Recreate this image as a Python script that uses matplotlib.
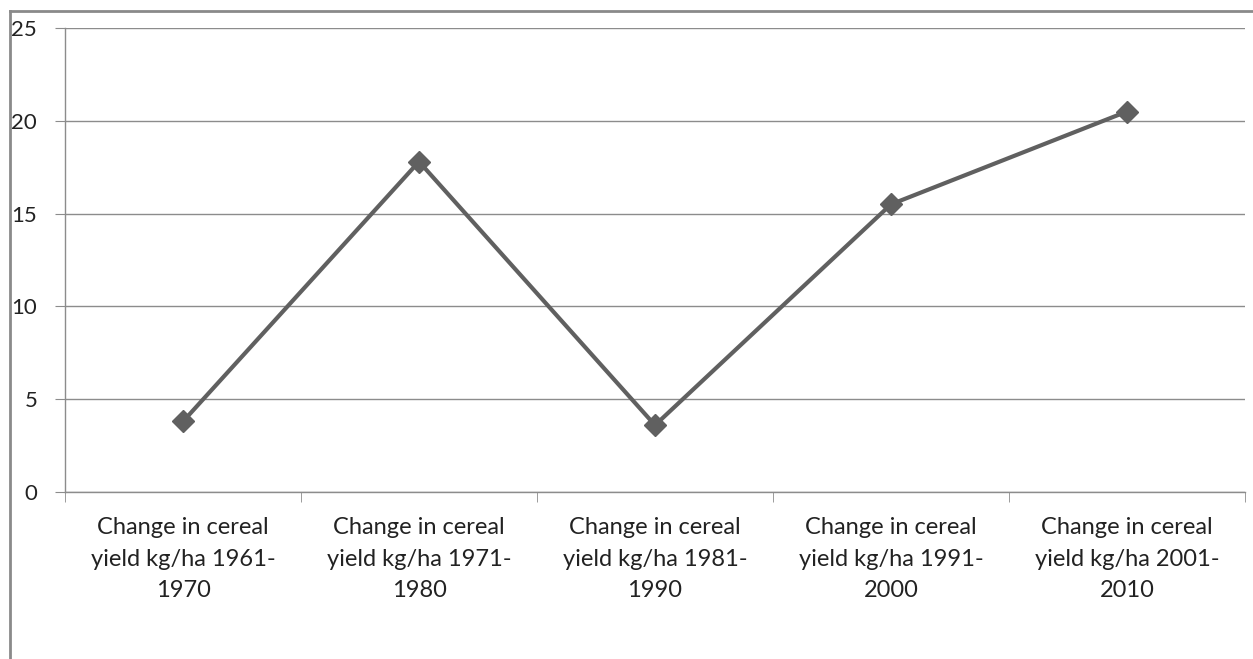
import matplotlib.pyplot as plt
import numpy as np
from matplotlib.lines import Line2D

periods = ['1961-\n1970', '1971-\n1980', '1981-\n1990', '1991-\n2000', '2001-\n2010']
cambio_rendimento = [3.8, 17.8, 3.6, 15.5, 20.5]
rotulos = ['Change in cereal\nyield kg/ha ' + p for p in periods]

plt.rcParams['font.family'] = ['Lato', 'DejaVu Sans']

fig = plt.figure(figsize=(12.53, 6.59), dpi=100)
ax = fig.add_axes([65 / 1253, 1 - 492 / 659, 1180 / 1253, 464 / 659])

x = np.arange(len(cambio_rendimento))
ax.plot(x, cambio_rendimento, color='#606060', linewidth=3, marker='D',
        markersize=11, markerfacecolor='#606060', markeredgecolor='#606060', zorder=3)

ax.set_xlim(-0.5, len(x) - 0.5)
ax.set_ylim(0, 25)
ax.set_yticks([0, 5, 10, 15, 20, 25])
ax.yaxis.grid(True, color='#8c8c8c', linewidth=1)
ax.set_axisbelow(True)

ax.set_xticks(x)
ax.set_xticklabels(rotulos, fontsize=17, color='#222222', linespacing=1.62)
ax.set_xticks(np.arange(-0.5, len(x), 1), minor=True)
ax.tick_params(axis='x', which='major', length=0, pad=18)
ax.tick_params(axis='x', which='minor', length=7, color='#8c8c8c', direction='out')
ax.tick_params(axis='y', length=7, color='#8c8c8c', pad=13, labelsize=16, labelcolor='#222222')

for s in ['top', 'right']:
    ax.spines[s].set_visible(False)
for s in ['left', 'bottom']:
    ax.spines[s].set_color('#8c8c8c')
    ax.spines[s].set_linewidth(1)

# moldura externa (so aparece esquerda e topo)
fig.add_artist(Line2D([9.5 / 1253, 9.5 / 1253], [0, 1 - 11 / 659], color='#8a8a8a', linewidth=2))
fig.add_artist(Line2D([9.5 / 1253, 1], [1 - 11 / 659, 1 - 11 / 659], color='#8a8a8a', linewidth=2))

plt.savefig('out.png', dpi=100)
